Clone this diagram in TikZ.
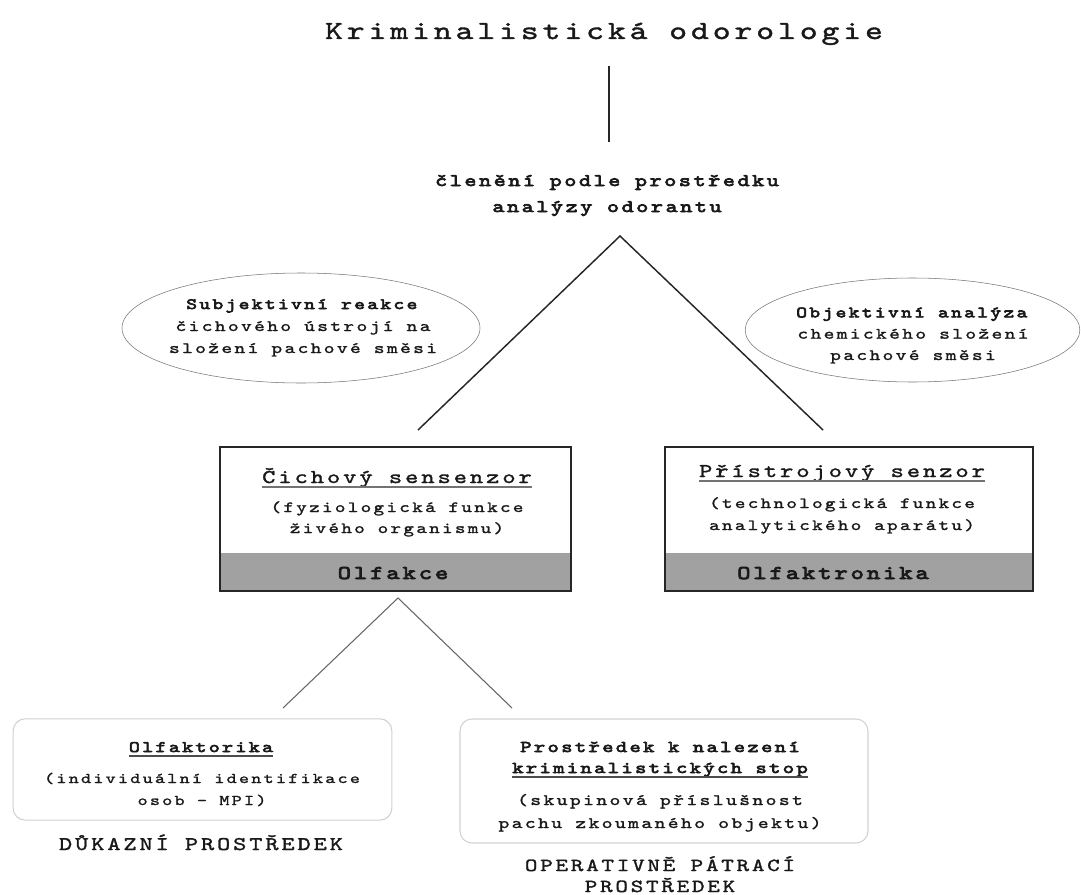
\documentclass[tikz,border=0pt]{standalone}
\usepackage{fontspec}
\setmainfont{lmmono10-regular.otf}[FakeStretch=1.3,LetterSpace=15,FakeBold=1.5,BoldFont=lmmono10-regular.otf,BoldFeatures={FakeBold=4}]
\usetikzlibrary{shapes.geometric}

\begin{document}
\begin{tikzpicture}[x=0.75pt,y=-0.75pt,
    lbl/.style={inner sep=0pt,anchor=base,align=center,text=black!90},
    oval/.style={ellipse,draw=black!55,thin,inner sep=0pt},
    sensor/.style={rectangle,draw=black!85,line width=1.2pt,minimum height=108pt,inner sep=0pt,
      path picture={\fill[black!37] ([yshift=28.5pt]path picture bounding box.south west) rectangle (path picture bounding box.south east);}},
    usage/.style={rectangle,rounded corners=9pt,draw=black!18,line width=0.8pt,inner sep=0pt},
    link/.style={line width=1.1pt,black!85},
    sublink/.style={line width=0.8pt,black!60},
    uline/.style={line width=1pt,black!55}
  ]
  \useasboundingbox (0,0) rectangle (1081,895);

  % title and first split
  \node(title) [lbl,font=\fontsize{19.6}{24}\selectfont] at (604,39) {Kriminalistická odorologie};
  \node(split) [lbl,font=\fontsize{13.2}{19.5}\selectfont\bfseries] at (607,212) {členění podle prostředku\\analýzy odorantu};
  \coordinate(t1) at (609,66);
  \coordinate(t2) at (609,142);
  \draw[link] (t1) -- (t2);

  \coordinate(apex) at (620,236);
  \coordinate(leftEnd) at (418,430);
  \coordinate(rightEnd) at (823,430);
  \draw[link] (leftEnd) -- (apex) -- (rightEnd);

  % ellipses
  \node(subj) [oval,minimum width=268.5pt,minimum height=82.5pt] at (301,328) {};
  \node(subjText) [lbl,font=\fontsize{11.8}{16.5}\selectfont] at (303,353) {\textbf{Subjektivní reakce}\\čichového ústrojí na\\složení pachové směsi};
  \node(obj) [oval,minimum width=251pt,minimum height=78pt] at (912.5,330) {};
  \node(objText) [lbl,font=\fontsize{11.8}{16}\selectfont] at (913,360) {\textbf{Objektivní analýza}\\chemického složení\\pachové směsi};

  % sensors
  \node(olfSensor) [sensor,minimum width=263.25pt] at (395.5,519) {};
  \node(olfHead) [lbl,font=\fontsize{14.6}{18}\selectfont] at (397,483) {Čichový sensenzor};
  \node(olfText) [lbl,font=\fontsize{11.6}{15.75}\selectfont] at (397,533) {(fyziologická funkce\\živého organismu)};
  \node(olfakce) [lbl,font=\fontsize{14.6}{18}\selectfont\bfseries] at (393,579) {Olfakce};
  \draw[uline] ([yshift=-3pt]olfHead.base west) -- ([yshift=-3pt]olfHead.base east);

  \node(priSensor) [sensor,minimum width=276pt] at (849,519) {};
  \node(priHead) [lbl,font=\fontsize{14.6}{18}\selectfont] at (842,477) {Přístrojový senzor};
  \node(priText) [lbl,font=\fontsize{11.6}{16.5}\selectfont] at (842,530) {(technologická funkce\\analytického aparátu)};
  \node(olfaktronika) [lbl,font=\fontsize{14.6}{18}\selectfont\bfseries] at (833,579) {Olfaktronika};
  \draw[uline] ([yshift=-3pt]priHead.base west) -- ([yshift=-3pt]priHead.base east);

  \coordinate(apex2) at (398,598);
  \coordinate(leftEnd2) at (283,708);
  \coordinate(rightEnd2) at (512,708);
  \draw[sublink] (leftEnd2) -- (apex2) -- (rightEnd2);

  % usage boxes
  \node(olfaktorikaBox) [usage,minimum width=284pt,minimum height=76pt] at (202.5,769.5) {};
  \node(olfaktorika) [lbl,font=\fontsize{12}{15}\selectfont\bfseries] at (201,752) {Olfaktorika};
  \draw[uline,black!70] ([yshift=-3pt]olfaktorika.base west) -- ([yshift=-3pt]olfaktorika.base east);
  \node(ident) [lbl,font=\fontsize{11.1}{16.5}\selectfont] at (202,805) {(individuální identifikace\\osob - MPI)};
  \node(dukaz) [lbl,font=\fontsize{14.5}{18}\selectfont] at (201,850) {DŮKAZNÍ PROSTŘEDEK};

  \node(stopyBox) [usage,minimum width=306pt,minimum height=93pt] at (664,781) {};
  \node(stopyA) [lbl,font=\fontsize{12.3}{15}\selectfont\bfseries] at (660,752) {Prostředek k nalezení};
  \node(stopyB) [lbl,font=\fontsize{12.3}{15}\selectfont\bfseries] at (660,773) {kriminalistických stop};
  \draw[uline,black!70] ([yshift=-3pt]stopyB.base west) -- ([yshift=-3pt]stopyB.base east);
  \node(skupina) [lbl,font=\fontsize{11.9}{17.25}\selectfont] at (660,828) {(skupinová příslušnost\\pachu zkoumaného objektu)};
  \node(operativ) [lbl,font=\fontsize{13.8}{15.75}\selectfont] at (660,892) {OPERATIVNĚ PÁTRACÍ\\PROSTŘEDEK};

\end{tikzpicture}
\end{document}
